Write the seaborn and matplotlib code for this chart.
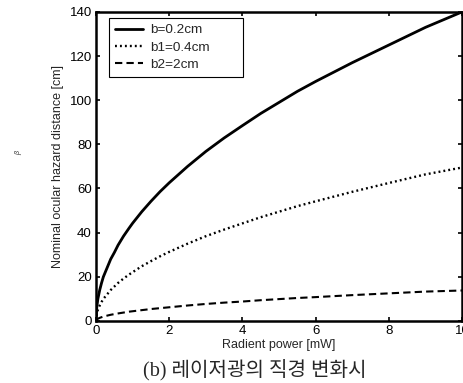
import matplotlib
matplotlib.use("Agg")
import matplotlib.pyplot as plt
import seaborn as sns
import pandas as pd

# Radiant power samples [mW]
power = [0, 0.02, 0.05, 0.1, 0.15, 0.2, 0.3, 0.4, 0.5, 0.6, 0.75, 0.9, 1, 1.25, 1.5, 1.75,
         2, 2.5, 3, 3.5, 4, 4.5, 5, 5.5, 6, 7, 8, 9, 10]

# Nominal ocular hazard distance [cm] for each beam diameter
nohd_b = [0, 6.3, 10, 14, 17.2, 20, 24, 28, 31, 34.3, 38.4, 42, 44.3, 49.5, 54.2, 58.6,
          62.6, 70, 76.8, 82.9, 88.5, 94, 99, 104, 108.5, 117, 125, 133, 140]
nohd_b1 = [0, 3.2, 5, 7, 8.6, 10, 12, 14, 15.6, 17.2, 19.2, 21, 22.1, 24.8, 27.1, 29.3,
           31.3, 35, 38.4, 41.4, 44.2, 47, 49.5, 52, 54.2, 58.5, 62.5, 66.4, 69.5]
nohd_b2 = [0.3, 0.6, 1, 1.4, 1.7, 2, 2.4, 2.8, 3.1, 3.4, 3.8, 4.2, 4.4, 4.9, 5.4, 5.8,
           6.2, 7, 7.7, 8.3, 8.8, 9.4, 9.9, 10.4, 10.8, 11.7, 12.5, 13.3, 13.8]

series_names = ["b=0.2cm", "b1=0.4cm", "b2=2cm"]
line_widths = [2.0, 1.7, 1.5]

df = pd.concat([
    pd.DataFrame({"power": power, "nohd": vals, "series": name})
    for name, vals in zip(series_names, [nohd_b, nohd_b1, nohd_b2])
], ignore_index=True)

sns.set_theme(style="white")
plt.rcParams["font.family"] = ["Liberation Sans", "DejaVu Sans"]

fig = plt.figure(figsize=(4.64, 3.83), dpi=100)
ax = fig.add_axes([0.207, 0.162, 0.789, 0.807])

sns.lineplot(
    data=df, x="power", y="nohd", hue="series", style="series",
    hue_order=series_names, style_order=series_names,
    palette=["black", "black", "black"],
    dashes={"b=0.2cm": "", "b1=0.4cm": (0.8, 1.3), "b2=2cm": (3.5, 2)},
    ax=ax, legend=True,
)
for line, lw in zip(ax.lines, line_widths):
    line.set_linewidth(lw)

ax.set_xlim(0, 10)
ax.set_ylim(0, 140)
ax.set_xticks([0, 2, 4, 6, 8, 10])
ax.set_yticks([0, 20, 40, 60, 80, 100, 120, 140])
ax.tick_params(direction="in", length=3, width=1.2, top=True, right=True,
               bottom=True, left=True, labelsize=9.5, colors="black", pad=3)
for sp in ax.spines.values():
    sp.set_linewidth(1.8)
    sp.set_color("black")

ax.set_xlabel("Radient power [mW]", fontsize=9, labelpad=1)
ax.set_ylabel("Nominal ocular hazard distance [cm]", fontsize=9, labelpad=4)

leg = ax.legend(loc="upper left", bbox_to_anchor=(0.0355, 0.0, 0.366, 0.981),
                mode="expand", borderaxespad=0.0,
                fontsize=9.7, frameon=True, fancybox=False,
                edgecolor="black", framealpha=1,
                handlelength=2.05, handletextpad=0.55,
                labelspacing=0.36, borderpad=0.45)
leg.get_frame().set_linewidth(0.8)
for h, lw in zip(leg.get_lines(), line_widths):
    h.set_linewidth(lw)

fig.text(0.55, 0.006, "(b) 레이저광의 직경 변화시", ha="center", va="bottom",
         fontsize=14.5, family=["Liberation Serif", "Noto Sans CJK KR"])
fig.text(0.04, 0.60, "β", rotation=90, ha="center", va="center", fontsize=5,
         style="italic")

fig.savefig("out.png", dpi=100)
